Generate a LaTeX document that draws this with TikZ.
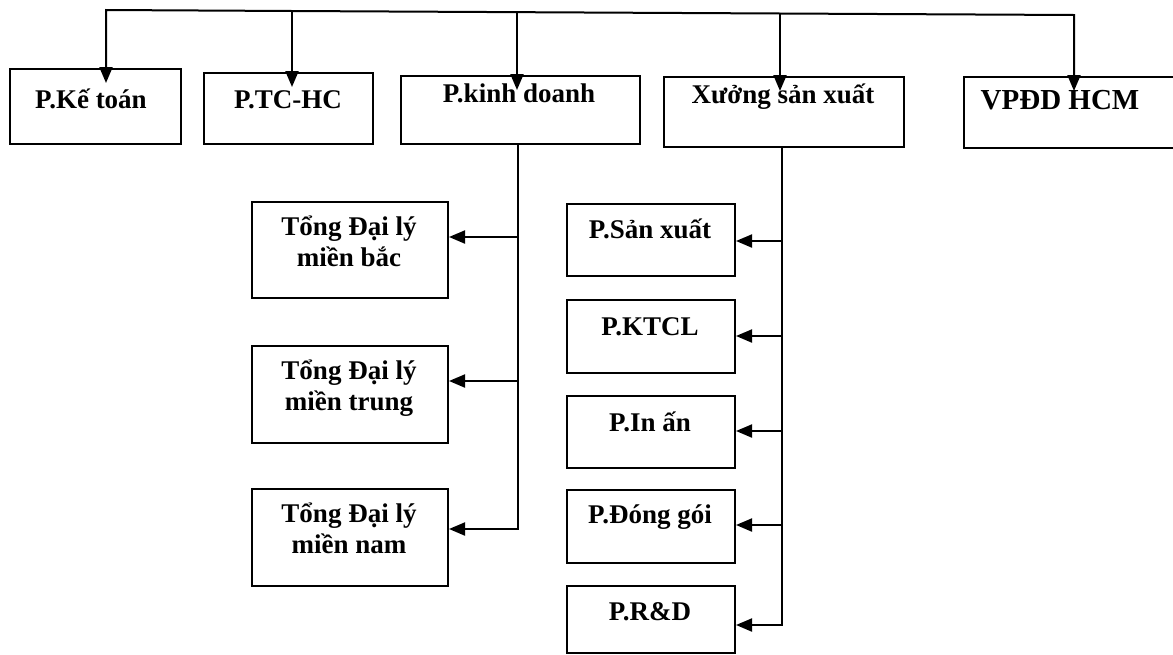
\documentclass[tikz,border=0pt]{standalone}
\usepackage{fontspec}
\setmainfont{Liberation Serif}
\usetikzlibrary{arrows.meta,calc}
\begin{document}
\begin{tikzpicture}[x=1pt,y=-1pt,
  box/.style={draw, line width=2pt, inner sep=0pt, anchor=north west},
  lbl/.style={font=\fontsize{27}{31}\selectfont\bfseries, anchor=base, inner sep=0pt},
  conn/.style={line width=2pt},
  arr/.style={conn, -{Triangle[length=16pt,width=13pt]}}]
\useasboundingbox (0,0) rectangle (1173,654);
\clip (0,0) rectangle (1173,654);

% top row boxes
\node[box, minimum width=171, minimum height=75] (kt) at (9,68) {};
\node[box, minimum width=169, minimum height=71] (tc) at (203,72) {};
\node[box, minimum width=239, minimum height=68] (kd) at (400,75) {};
\node[box, minimum width=240, minimum height=70] (xs) at (663,76) {};
\node[box, minimum width=222, minimum height=71] (vp) at (963,76) {};

\node[lbl] (ktT) at (91,108) {P.Kế toán};
\node[lbl] (tcT) at (288,108) {P.TC-HC};
\node[lbl] (kdT) at (519,102) {P.kinh doanh};
\node[lbl] (xsT) at (783,103) {Xưởng sản xuất};
\node[lbl, font=\fontsize{29}{31}\selectfont\bfseries] (vpT) at (1060,109) {VPĐD HCM};

% bus
\coordinate (b1) at (106,10);
\coordinate (b2) at (292,11);
\coordinate (b3) at (517,12);
\coordinate (b4) at (780,13.5);
\coordinate (b5) at (1074,15);
\draw[arr] (b2) -- (b1) -- ($(b1 |- kt.north)+(0,15)$);
\draw[arr] (b2) -- ($(b2 |- tc.north)+(0,15)$);
\draw[conn] (b2) -- (b4);
\draw[arr] (b3) -- ($(b3 |- kd.north)+(0,15)$);
\draw[arr] (b4) -- ($(b4 |- xs.north)+(0,15)$);
\draw[arr] (b4) -- (b5) -- ($(b5 |- vp.north)+(0,15)$);

% left column
\node[box, minimum width=196, minimum height=96] (a1) at (251,201) {};
\node[box, minimum width=196, minimum height=97] (a2) at (251,345) {};
\node[box, minimum width=196, minimum height=97] (a3) at (251,488) {};
\node[lbl] (a1T1) at (349,235) {Tổng Đại lý};
\node[lbl] (a1T2) at (349,266) {miền bắc};
\node[lbl] (a2T1) at (349,379) {Tổng Đại lý};
\node[lbl] (a2T2) at (349,410) {miền trung};
\node[lbl] (a3T1) at (349,522) {Tổng Đại lý};
\node[lbl] (a3T2) at (349,553) {miền nam};

\coordinate (kdE) at (518,529);
\draw[arr] (kd.south -| kdE) -- (kdE) -- (a3.east |- kdE);
\draw[arr] (kdE |- 0,237) -- (a1.east |- 0,237);
\draw[arr] (kdE |- 0,381) -- (a2.east |- 0,381);

% right column
\node[box, minimum width=168, minimum height=72] (r1) at (566,203) {};
\node[box, minimum width=168, minimum height=73] (r2) at (566,299) {};
\node[box, minimum width=168, minimum height=72] (r3) at (566,395) {};
\node[box, minimum width=168, minimum height=73] (r4) at (566,489) {};
\node[box, minimum width=168, minimum height=67] (r5) at (566,585) {};
\node[lbl] (r1T) at (650,238) {P.Sản xuất};
\node[lbl] (r2T) at (650,335) {P.KTCL};
\node[lbl] (r3T) at (650,431) {P.In ấn};
\node[lbl] (r4T) at (650,523) {P.Đóng gói};
\node[lbl] (r5T) at (650,620) {P.R\&D};

\coordinate (xsE) at (782,625);
\draw[arr] (xs.south -| xsE) -- (xsE) -- (r5.east |- xsE);
\draw[arr] (xsE |- 0,241) -- (r1.east |- 0,241);
\draw[arr] (xsE |- 0,336) -- (r2.east |- 0,336);
\draw[arr] (xsE |- 0,431) -- (r3.east |- 0,431);
\draw[arr] (xsE |- 0,525) -- (r4.east |- 0,525);
\end{tikzpicture}
\end{document}
